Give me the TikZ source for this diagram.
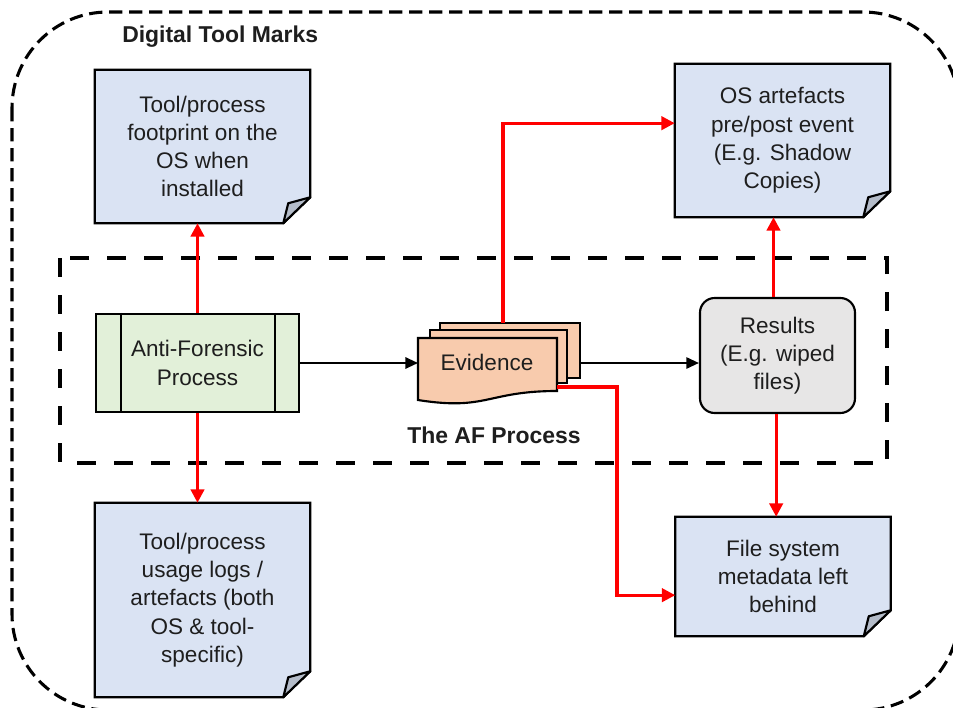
\documentclass[tikz,border=0pt]{standalone}
\usepackage{fontspec}
\setmainfont{Liberation Sans}
\usetikzlibrary{arrows.meta,backgrounds}
\definecolor{notefill}{HTML}{DAE3F3}
\definecolor{foldfill}{HTML}{B4BCC9}
\definecolor{affill}{HTML}{E2F0D9}
\definecolor{evfill}{HTML}{F8CBAD}
\definecolor{resfill}{HTML}{E7E6E6}
\definecolor{linkred}{HTML}{FF0000}
\definecolor{inktext}{HTML}{1E1E1E}

% sticky-note outline with a folded bottom-right corner, drawn behind node #1
\newcommand\notepaper[1]{%
  \begin{scope}[on background layer]
    \draw[boxline, fill=notefill, line join=miter]
      (#1.north west) -- (#1.north east) -- ([yshift=19.5pt]#1.south east)
      -- ([xshift=-20.25pt]#1.south east) -- (#1.south west) -- cycle;
    \draw[boxline, fill=foldfill, line join=round]
      ([yshift=19.5pt]#1.south east) -- ([xshift=-16.5pt,yshift=15pt]#1.south east)
      -- ([xshift=-20.25pt]#1.south east) -- cycle;
  \end{scope}}

\begin{document}
\begin{tikzpicture}[x=0.75pt,y=-0.75pt,
  boxline/.style={draw=black,line width=1.6pt},
  txt/.style={font=\fontsize{16.9}{21.2}\selectfont,align=center,inner sep=0pt,text=inktext},
  heading/.style={font=\fontsize{17.2}{21}\selectfont\bfseries,inner sep=0pt,text=inktext},
  notebox/.style={txt,minimum width=161.25pt},
  redlink/.style={draw=linkred,line width=2.3pt,-{Triangle[length=10pt,width=10pt]}},
  blacklink/.style={draw=black,line width=1.5pt,-{Triangle[length=9.5pt,width=8.5pt]}},
  outerdash/.style={draw=black,line width=2.3pt,dash pattern=on 10pt off 5pt},
  innerdash/.style={draw=black,line width=3.4pt,dash pattern=on 14.25pt off 13.5pt}]

\useasboundingbox (0,0) rectangle (953,707);
\begin{scope}[on background layer]
  \fill[white] (0,0) rectangle (953,707);
\end{scope}

% outer frame: digital tool marks
\begin{scope}
  \clip (0,0) rectangle (953,707);
  \draw[outerdash, rounded corners=72pt] (12,12) rectangle (959,710);
\end{scope}
\node[heading, anchor=west] (title) at (122,37) {Digital Tool Marks};

% inner frame: the AF process
\draw[innerdash] (60,258) rectangle (887,463);
\node[heading] (afcaption) at (494,435) {The AF Process};

% anti-forensic process box with side bars
\node[txt, boxline, fill=affill, minimum width=152.25pt, minimum height=73.5pt]
  (af) at (197.5,363) {Anti-Forensic\\Process};
\draw[boxline] ([xshift=19.5pt]af.north west) -- ([xshift=19.5pt]af.south west);
\draw[boxline] ([xshift=-18.75pt]af.north east) -- ([xshift=-18.75pt]af.south east);

% evidence: stacked documents
\draw[boxline, fill=evfill] (440,323) rectangle (580,378);
\draw[boxline, fill=evfill] (430,330) rectangle (567,383);
\draw[boxline, fill=evfill] (418,338) -- (557,338) -- (557,391)
  .. controls (487,391) and (487,411) .. (418,400) -- cycle;
\node[txt] (ev) at (487,362) {Evidence};
\coordinate (evin) at (418,363);
\coordinate (evout) at (580,363);
\coordinate (evtop) at (503,323);
\coordinate (evlow) at (557,387);

% results
\node[txt, boxline, fill=resfill, rounded corners=11pt,
  minimum width=116.25pt, minimum height=86.25pt]
  (res) at (777.5,355.5) {Results\\(E.g. wiped\\files)};

% tool-mark notes
\node[notebox, minimum height=114.75pt] (n1) at (202.5,146.5)
  {Tool/process\\footprint on the\\OS when\\installed};
\notepaper{n1}
\node[notebox, minimum height=114.75pt] (n2) at (782.5,140.5)
  {OS artefacts\\pre/post event\\(E.g. Shadow\\Copies)};
\notepaper{n2}
\node[notebox, minimum height=145.5pt] (n3) at (202.5,600)
  {Tool/process\\usage logs /\\artefacts (both\\OS \& tool-\\specific)};
\notepaper{n3}
\node[notebox, minimum height=89.25pt] (n4) at (783,576.5)
  {File system\\metadata left\\behind};
\notepaper{n4}

% process flow
\draw[blacklink] (af.east |- evin) -- (evin);
\draw[blacklink] (evout) -- (res.west |- evout);

% tool-mark links
\draw[redlink] (af.north) -- (af.north |- n1.south);
\draw[redlink] (af.south) -- (af.south |- n3.north);
\draw[redlink] (evtop) |- ([yshift=13pt]n2.west);
\draw[redlink] (evlow) -- ++(60,0) |- ([yshift=-14pt]n4.west);
\draw[redlink] ([xshift=-3pt]res.north) -- ([xshift=-3pt]res.north |- n2.south);
\draw[redlink] ([xshift=-1pt]res.south) -- ([xshift=-1pt]res.south |- n4.north);
\end{tikzpicture}
\end{document}
